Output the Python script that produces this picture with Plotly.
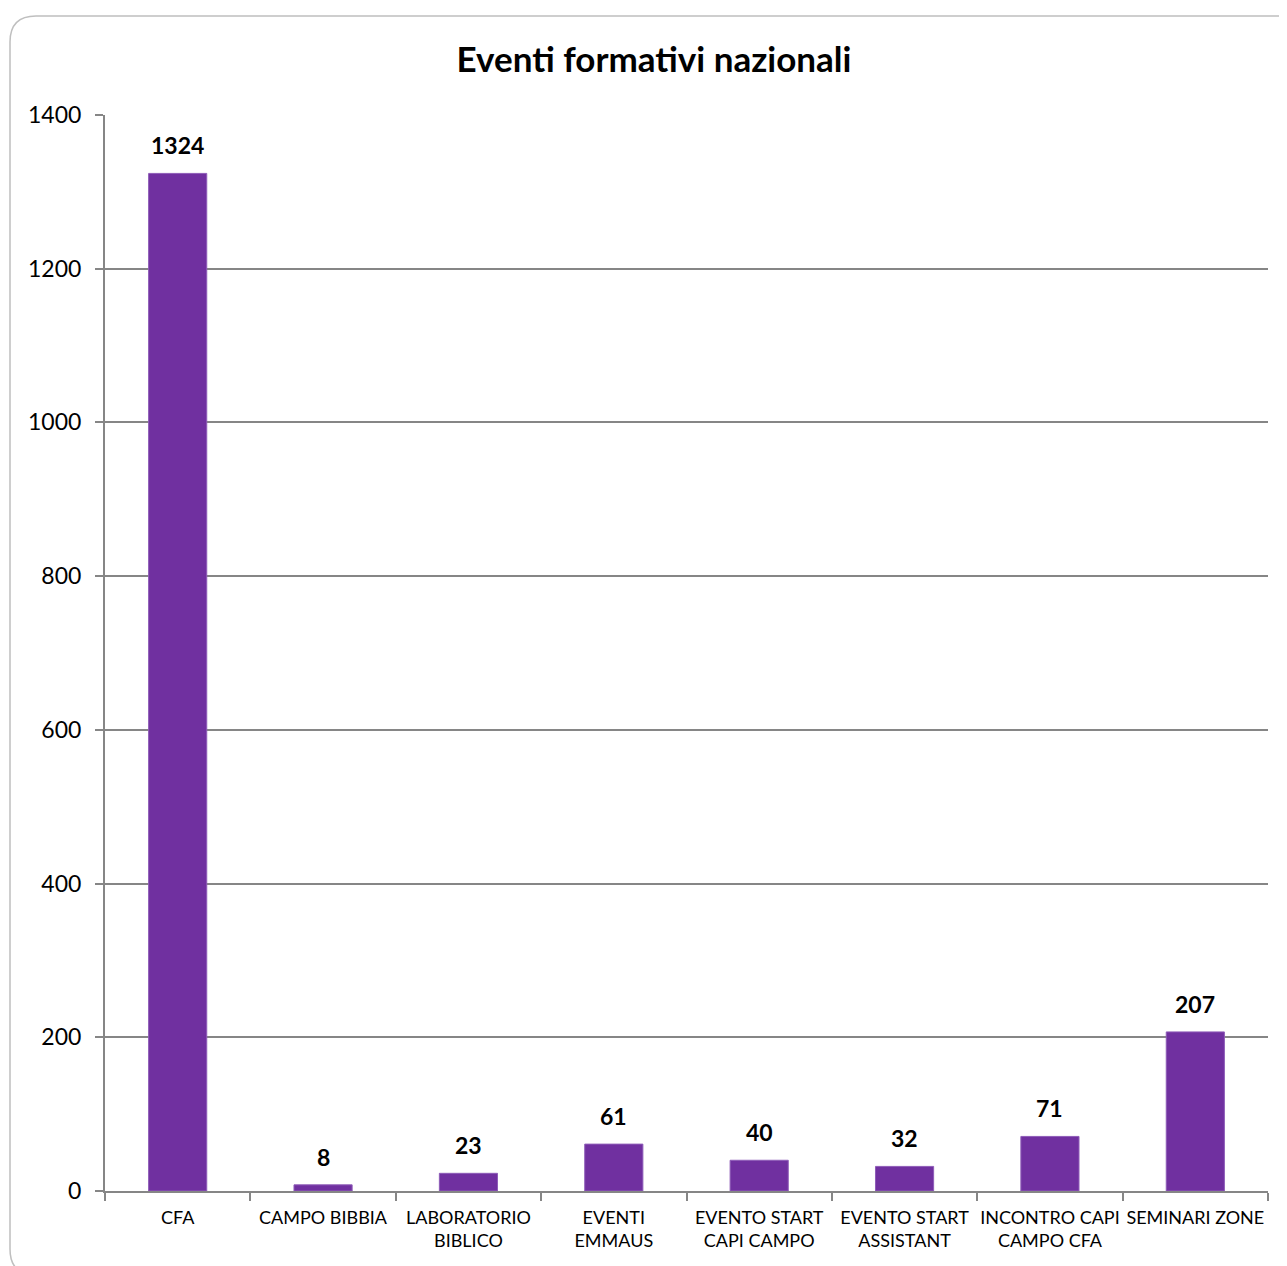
import plotly.graph_objects as go

categories = ["CFA", "CAMPO BIBBIA", "LABORATORIO<br>BIBLICO", "EVENTI<br>EMMAUS",
              "EVENTO START<br>CAPI CAMPO", "EVENTO START<br>ASSISTANT",
              "INCONTRO CAPI<br>CAMPO CFA", "SEMINARI ZONE"]
values = [1324, 8, 23, 61, 40, 32, 71, 207]
y_ticks = [0, 200, 400, 600, 800, 1000, 1200, 1400]

FONT = "Lato, 'Open Sans', sans-serif"
OFF = 8  # page body margin
W, H = 1287 - OFF, 1266 - OFF
L, R, T, B = 105 - OFF, 19, 115 - OFF, 75
pw, ph = W - L - R, H - T - B

fig = go.Figure(go.Bar(
    x=categories, y=values,
    marker=dict(color="#7030A0", line=dict(color="#8E5CB8", width=1)),
    width=0.4, hoverinfo="x+y",
))

for c, v in zip(categories, values):
    fig.add_annotation(x=c, y=v, text=f"<b>{v}</b>", showarrow=False,
                       yanchor="bottom", yshift=12,
                       font=dict(family=FONT, size=23, color="black"))

def px(x):
    return (x - OFF - L) / pw

def py(y):
    return (H + OFF - B - y) / ph

x0, x1, y0, y1, r = 10, 1302, 16, 1275, 26
path = (f"M {px(x0)},{py(y0 + r)} Q {px(x0)},{py(y0)} {px(x0 + r)},{py(y0)} "
        f"L {px(x1 - r)},{py(y0)} Q {px(x1)},{py(y0)} {px(x1)},{py(y0 + r)} "
        f"L {px(x1)},{py(y1 - r)} Q {px(x1)},{py(y1)} {px(x1 - r)},{py(y1)} "
        f"L {px(x0 + r)},{py(y1)} Q {px(x0)},{py(y1)} {px(x0)},{py(y1 - r)} Z")

fig.update_layout(
    width=W, height=H,
    margin=dict(l=L, r=R, t=T, b=B, autoexpand=False),
    paper_bgcolor="white", plot_bgcolor="white",
    showlegend=False,
    title=dict(text="<b>Eventi formativi nazionali</b>", x=(654 - OFF) / W, xanchor="center",
               y=1 - (60 - OFF) / H, yanchor="middle",
               font=dict(family=FONT, size=35, color="black")),
    font=dict(family=FONT, color="black"),
    xaxis=dict(showline=True, linecolor="#868686", linewidth=2, automargin=False, tickangle=0,
               ticks="outside", tickson="boundaries", ticklen=8, tickcolor="#868686", tickwidth=2,
               ticklabelstandoff=9,
               tickfont=dict(size=18, family=FONT, color="black"), showgrid=False),
    yaxis=dict(range=[0, 1400], tickvals=y_ticks, showline=True, linecolor="#868686", linewidth=2,
               automargin=False, ticklabelstandoff=9,
               ticks="outside", ticklen=8, tickcolor="#868686", tickwidth=2,
               showgrid=True, gridcolor="#868686", gridwidth=1.5, zeroline=False,
               tickfont=dict(size=23, family=FONT, color="black")),
    shapes=[dict(type="path", path=path, xref="paper", yref="paper",
                 line=dict(color="#BFBFBF", width=1.5), layer="below")],
)

fig.write_html("out.html")
